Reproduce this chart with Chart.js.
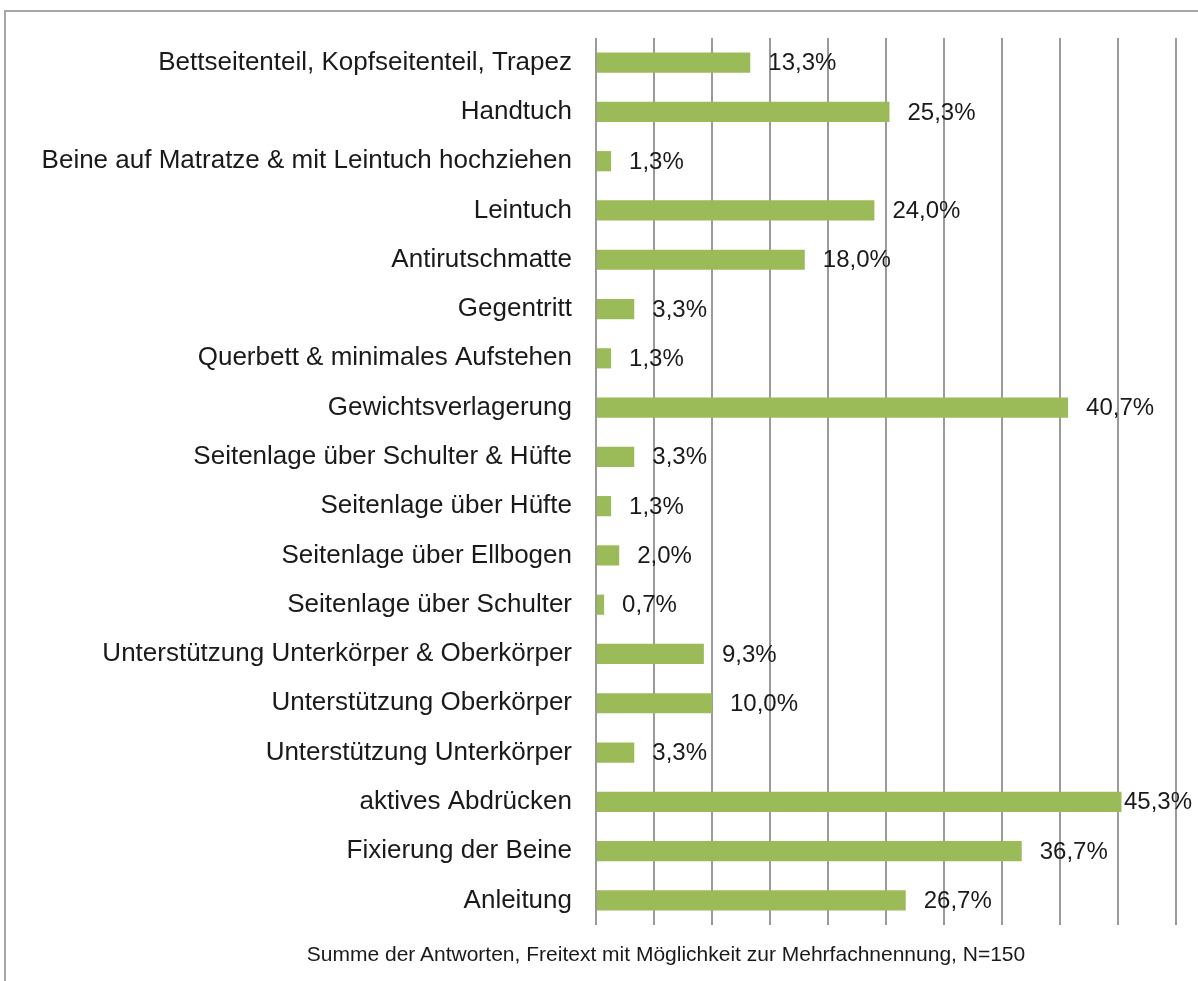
<!DOCTYPE html>
<html>
<head>
<meta charset="utf-8">
<script src="https://cdn.jsdelivr.net/npm/chart.js@4/dist/chart.umd.min.js"></script>
<style>
  html, body { margin: 0; padding: 0; background: #fff; }
  #wrap { position: relative; width: 1198px; height: 981px; overflow: hidden; }
  #frame { position: absolute; left: 4px; top: 10px; right: -10px; bottom: -10px;
           border-left: 2px solid #a6a6a6; border-top: 2px solid #a6a6a6; }
  #chart { position: absolute; left: 0; top: 0; }
  #note { position: absolute; left: 0; width: 1332px; top: 942px; text-align: center;
          font: 21px "Liberation Sans", Arial, sans-serif; color: #1a1a1a; }
</style>
</head>
<body>
<div id="wrap">
  <div id="frame"></div>
  <canvas id="chart" width="1198" height="981"></canvas>
  <div id="note">Summe der Antworten, Freitext mit Möglichkeit zur Mehrfachnennung, N=150</div>
</div>
<script>
// Kategorien (von oben nach unten)
const categories = [
  'Bettseitenteil, Kopfseitenteil, Trapez',
  'Handtuch',
  'Beine auf Matratze & mit Leintuch hochziehen',
  'Leintuch',
  'Antirutschmatte',
  'Gegentritt',
  'Querbett & minimales Aufstehen',
  'Gewichtsverlagerung',
  'Seitenlage über Schulter & Hüfte',
  'Seitenlage über Hüfte',
  'Seitenlage über Ellbogen',
  'Seitenlage über Schulter',
  'Unterstützung Unterkörper & Oberkörper',
  'Unterstützung Oberkörper',
  'Unterstützung Unterkörper',
  'aktives Abdrücken',
  'Fixierung der Beine',
  'Anleitung'
];

// Anteil der Nennungen in %
const percentValues = [13.3, 25.3, 1.3, 24.0, 18.0, 3.3, 1.3, 40.7, 3.3, 1.3, 2.0, 0.7, 9.3, 10.0, 3.3, 45.3, 36.7, 26.7];

const axisMin = 0;
const axisMax = 50;
const axisStep = 5;

const FONT = '"Liberation Sans", Arial, sans-serif';

function formatPercent(v) {
  return v.toFixed(1).replace('.', ',') + '%';
}

// Werte rechts neben die Balken schreiben
const valueLabels = {
  id: 'valueLabels',
  afterDatasetsDraw(chart) {
    const ctx = chart.ctx;
    const meta = chart.getDatasetMeta(0);
    ctx.save();
    ctx.font = '24px ' + FONT;
    ctx.fillStyle = '#1a1a1a';
    ctx.textBaseline = 'middle';
    ctx.textAlign = 'left';
    meta.data.forEach((bar, i) => {
      const text = formatPercent(percentValues[i]);
      const w = ctx.measureText(text).width;
      let x = bar.x + 18;
      if (x + w > chart.width - 6) x = chart.width - 6 - w;
      ctx.fillText(text, x, bar.y + 1);
    });
    ctx.restore();
  }
};

new Chart(document.getElementById('chart'), {
  type: 'bar',
  data: {
    labels: categories,
    datasets: [{
      data: percentValues,
      backgroundColor: '#9bbb59',
      borderWidth: 0,
      barPercentage: 0.41,
      categoryPercentage: 1
    }]
  },
  options: {
    indexAxis: 'y',
    responsive: false,
    animation: false,
    devicePixelRatio: 1,
    layout: { padding: { top: 38, right: 22, bottom: 56, left: 0 } },
    plugins: {
      legend: { display: false },
      tooltip: { enabled: false }
    },
    scales: {
      x: {
        min: axisMin,
        max: axisMax,
        ticks: { display: false, stepSize: axisStep },
        grid: { color: '#9a9a9a', lineWidth: 2, drawTicks: false },
        border: { display: false },
        afterFit(scale) { scale.height = 0; }
      },
      y: {
        grid: { display: false },
        border: { display: false },
        ticks: {
          color: '#1a1a1a',
          font: { family: FONT, size: 26 },
          padding: 16,
          autoSkip: false
        },
        afterFit(scale) { scale.width = 596; }
      }
    }
  },
  plugins: [valueLabels]
});
</script>
</body>
</html>
